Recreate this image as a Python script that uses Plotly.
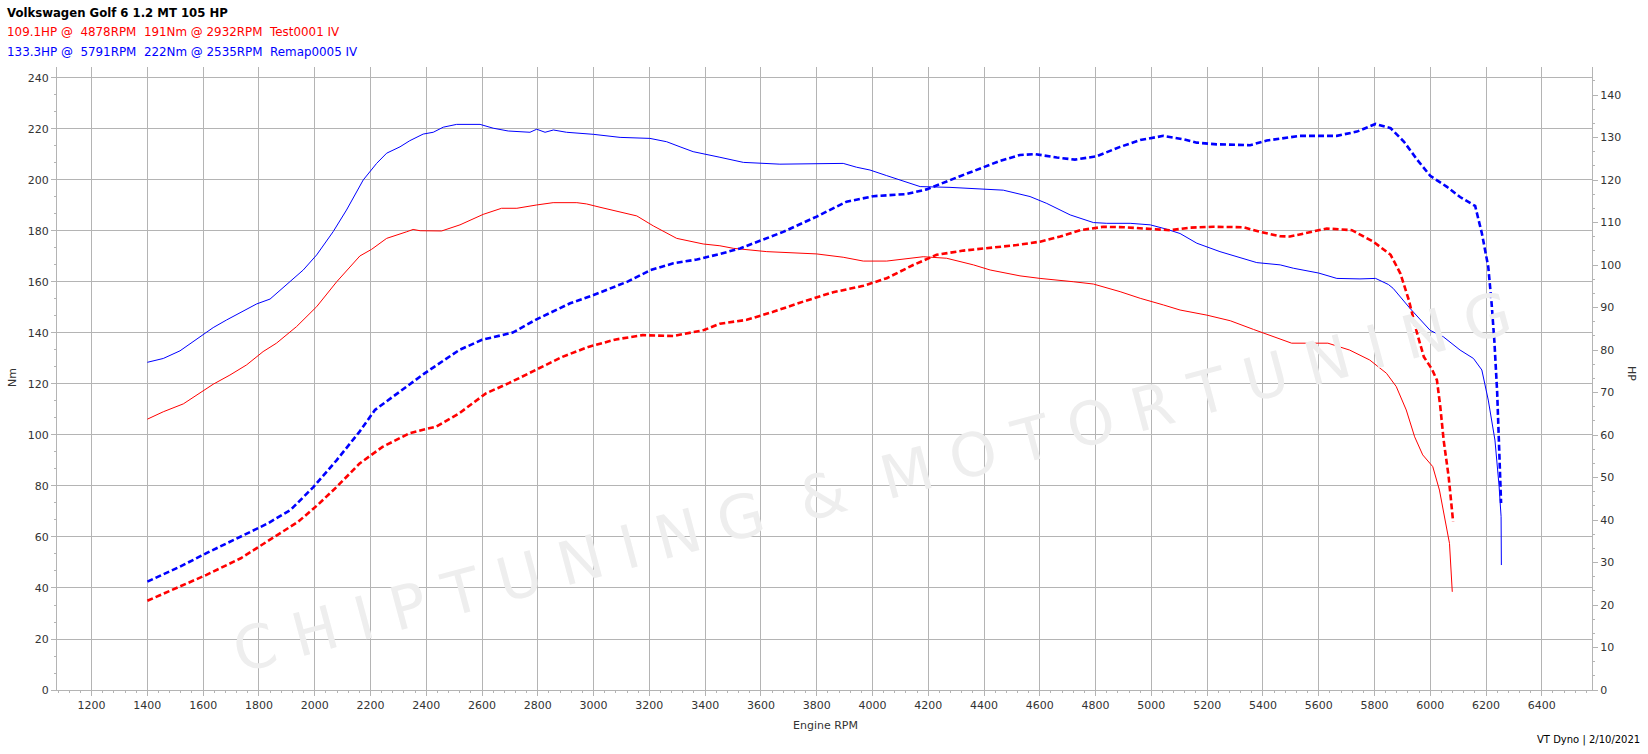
import plotly.graph_objects as go

# ---------------- data ----------------
remap_tq_rpm = [1400, 1457, 1517, 1577, 1636, 1684, 1732, 1792, 1840, 1899, 1959, 2007, 2066, 2114, 2174,
                2222, 2258, 2306, 2341, 2389, 2425, 2461, 2509, 2593, 2640, 2694, 2772, 2796, 2826, 2856,
                2903, 2999, 3095, 3202, 3262, 3310, 3357, 3453, 3537, 3668, 3895, 3943, 3991, 4051, 4123,
                4171, 4278, 4398, 4469, 4565, 4625, 4709, 4792, 4840, 4924, 4996, 5055, 5103, 5163, 5246,
                5318, 5378, 5462, 5509, 5600, 5665, 5748, 5804, 5850, 5867, 5927, 6000, 6047, 6107, 6155,
                6185, 6208, 6232, 6247, 6254, 6255]
remap_tq = [128.5, 130, 133, 137.6, 142.1, 145.1, 148, 151.4, 153.3, 158.8, 164.7, 170.6, 179.7, 188.2, 200,
            206.5, 210.5, 213, 215.4, 218, 218.7, 220.7, 221.8, 221.8, 220.3, 219.2, 218.7, 219.9, 218.7, 219.6,
            218.7, 217.9, 216.7, 216.3, 215, 213, 211.1, 208.9, 206.9, 206.2, 206.5, 205, 203.9, 201.7, 199,
            197.4, 197.1, 196.3, 196, 193.5, 190.8, 186.3, 183.3, 183, 183, 182.4, 180.7, 179, 175.2, 171.9,
            169.7, 167.6, 166.7, 165.4, 163.5, 161.4, 161.2, 161.4, 159, 157.5, 149.7, 141, 138.5, 133.3, 130,
            125.5, 113.7, 98, 79.7, 68, 49]

remap_hp_rpm = [1400, 1516, 1612, 1722, 1832, 1914, 1996, 2079, 2161, 2216, 2298, 2394, 2518, 2600, 2710,
                2792, 2916, 2998, 3122, 3204, 3286, 3370, 3453, 3525, 3680, 3800, 3907, 4003, 4122, 4194,
                4314, 4386, 4457, 4529, 4583, 4661, 4726, 4804, 4888, 4960, 5043, 5115, 5163, 5235, 5354,
                5414, 5533, 5665, 5737, 5804, 5858, 5906, 5954, 6000, 6060, 6107, 6161, 6185, 6208, 6220,
                6230, 6240, 6246, 6254]
remap_hp = [25.5, 29, 32.2, 35.7, 39.2, 42.4, 47.8, 54.1, 60.8, 65.9, 69.8, 74.5, 80, 82.4, 84.1,
            87.1, 91, 92.9, 96.1, 98.8, 100.4, 101.3, 102.6, 103.9, 107.8, 111.4, 114.9, 116.2, 116.7, 117.8,
            120.9, 122.7, 124.5, 125.9, 126.1, 125.3, 124.8, 125.6, 127.8, 129.4, 130.4, 129.6, 128.8, 128.4, 128.2,
            129.3, 130.4, 130.4, 131.4, 133.2, 132.2, 129, 124.7, 121, 118.4, 116, 113.9, 107.5, 99.6, 91,
            82, 70, 60, 44]

test_tq_rpm = [1400, 1457, 1529, 1577, 1636, 1696, 1756, 1815, 1863, 1935, 2007, 2079, 2162, 2204, 2258,
               2330, 2353, 2378, 2455, 2521, 2604, 2670, 2725, 2796, 2855, 2940, 2975, 3023, 3095, 3155,
               3214, 3298, 3393, 3453, 3501, 3621, 3800, 3895, 3967, 4051, 4182, 4266, 4362, 4422, 4529,
               4601, 4720, 4792, 4888, 4960, 5043, 5103, 5199, 5283, 5366, 5503, 5598, 5633, 5711, 5783,
               5843, 5878, 5914, 5944, 5973, 6009, 6033, 6057, 6069, 6079]
test_tq = [106.2, 109.1, 112.2, 115.7, 119.9, 123.5, 127.5, 132.7, 136, 142.5, 150.3, 160.1, 170.2, 172.8, 177.1,
           179.7, 180.6, 180.1, 180, 182.4, 186.5, 188.9, 188.9, 190.2, 191.1, 191.1, 190.6, 189.3, 187.6, 185.9,
           182, 177.1, 174.9, 174.2, 173.2, 171.9, 171, 169.7, 168.2, 168.2, 169.9, 169.3, 166.7, 164.7, 162.4,
           161.4, 160.1, 159.2, 156.2, 153.6, 151, 149, 147, 144.8, 141.4, 136, 136, 136, 133.3, 129.4,
           124.2, 119, 109.8, 99.3, 92.2, 87.6, 78.4, 64, 57.5, 38.5]

test_hp_rpm = [1400, 1516, 1612, 1735, 1859, 1941, 2010, 2079, 2161, 2243, 2339, 2436, 2518, 2614, 2696,
               2792, 2888, 2984, 3080, 3176, 3286, 3396, 3453, 3549, 3644, 3752, 3859, 3967, 4051, 4146,
               4230, 4326, 4457, 4517, 4601, 4673, 4745, 4828, 4900, 4983, 5067, 5139, 5222, 5330, 5390,
               5461, 5497, 5629, 5719, 5796, 5858, 5893, 5923, 5953, 5977, 6006, 6024, 6036, 6048, 6066,
               6082]
test_hp = [21, 24.3, 27.1, 31, 36.1, 39.6, 43.5, 47.8, 53.3, 57.2, 60.4, 62, 65.1, 69.8, 72.2,
           75.3, 78.4, 80.8, 82.5, 83.5, 83.3, 84.7, 86.2, 87.1, 89, 91.4, 93.6, 95.1, 96.9, 100,
           102.4, 103.4, 104.2, 104.7, 105.5, 106.7, 108.2, 109, 108.9, 108.6, 108.2, 108.8, 109, 108.9, 107.8,
           106.8, 106.7, 108.6, 108.2, 105.5, 102.4, 98, 91.8, 83.9, 78.4, 75.5, 72.9, 66.7, 58.8, 50.2,
           39.6]

title_text = "Volkswagen Golf 6 1.2 MT 105 HP"
test_label = "109.1HP @  4878RPM  191Nm @ 2932RPM  Test0001 IV"
remap_label = "133.3HP @  5791RPM  222Nm @ 2535RPM  Remap0005 IV"
footer_text = "VT Dyno | 2/10/2021"
watermark_text = "C H I P T U N I N G  &  M O T O R T U N I N G"
x_title, y_title, y2_title = "Engine RPM", "Nm", "HP"

# ---------------- figure ----------------
W, H = 1648, 754
L, R, T, B = 57, 56, 67, 64
pw, ph = W - L - R, H - T - B

def px(x):
    return (x - L) / pw

def py(y):
    return (H - B - y) / ph

RED = "#ff0000"
BLUE = "#0000ff"
GRID = "#b4b4b4"
FONT = "DejaVu Sans"
TXT = "#333333"

fig = go.Figure()
fig.add_trace(go.Scatter(x=test_tq_rpm, y=test_tq, mode="lines", line=dict(color=RED, width=1), showlegend=False))
fig.add_trace(go.Scatter(x=remap_tq_rpm, y=remap_tq, mode="lines", line=dict(color=BLUE, width=1), showlegend=False))
fig.add_trace(go.Scatter(x=test_hp_rpm, y=test_hp, mode="lines", yaxis="y2",
                         line=dict(color=RED, width=2.6, dash="6px,3px"), showlegend=False))
fig.add_trace(go.Scatter(x=remap_hp_rpm, y=remap_hp, mode="lines", yaxis="y2",
                         line=dict(color=BLUE, width=2.6, dash="6px,3px"), showlegend=False))

tickfont = dict(family=FONT, size=11, color=TXT)
common = dict(zeroline=False, showline=True, linecolor=GRID, linewidth=1, automargin=False,
              ticks="outside", ticklen=5, tickcolor=GRID, tickfont=tickfont)
fig.update_layout(
    width=W, height=H,
    margin=dict(l=L, r=R, t=T, b=B, pad=0, autoexpand=False),
    paper_bgcolor="white", plot_bgcolor="white",
    font=dict(family=FONT, size=11, color=TXT),
    xaxis=dict(range=[1076, 6580], tick0=1200, dtick=200, showgrid=True, gridcolor=GRID, gridwidth=1,
               minor=dict(dtick=40, ticks="outside", ticklen=2, tickcolor=GRID, showgrid=False), **common),
    yaxis=dict(range=[0, 244.3], dtick=20, showgrid=True, gridcolor=GRID, gridwidth=1,
               minor=dict(dtick=20 / 3, ticks="outside", ticklen=2, tickcolor=GRID, showgrid=False), **common),
    yaxis2=dict(range=[0, 146.6], dtick=10, overlaying="y", side="right", showgrid=False,
                minor=dict(dtick=10 / 3, ticks="outside", ticklen=2, tickcolor=GRID, showgrid=False), **common),
)

nb = lambda s: s.replace(" ", "\u00a0")
def ann(text, x, y, xa="left", size=12, color=TXT, angle=0):
    fig.add_annotation(text=text, xref="paper", yref="paper", x=px(x), y=py(y), xanchor=xa, yanchor="middle",
                       showarrow=False, textangle=angle, borderpad=0,
                       font=dict(family=FONT, size=size, color=color))

# watermark (drawn first, behind the other annotations)
ann(nb(watermark_text), 872, 482, xa="center", size=60, color="#eeeeee", angle=-15)

ann("<b>" + title_text + "</b>", 6, 13, size=11.7, color="#000000")
ann(nb(test_label), 6, 32, size=11.9, color=RED)
ann(nb(remap_label), 6, 52, size=11.9, color=BLUE)
ann(nb(footer_text), 1641, 740, xa="right", size=10, color="#000000")
ann(x_title, 826, 725, xa="center", size=11)
ann(y_title, 13, 378, xa="center", size=11, angle=-90)
ann(y2_title, 1632, 373, xa="center", size=11, angle=90)

fig.write_html("out.html", config={"displayModeBar": False},
               post_script="document.body.style.margin='0px';document.body.style.padding='0px';")
